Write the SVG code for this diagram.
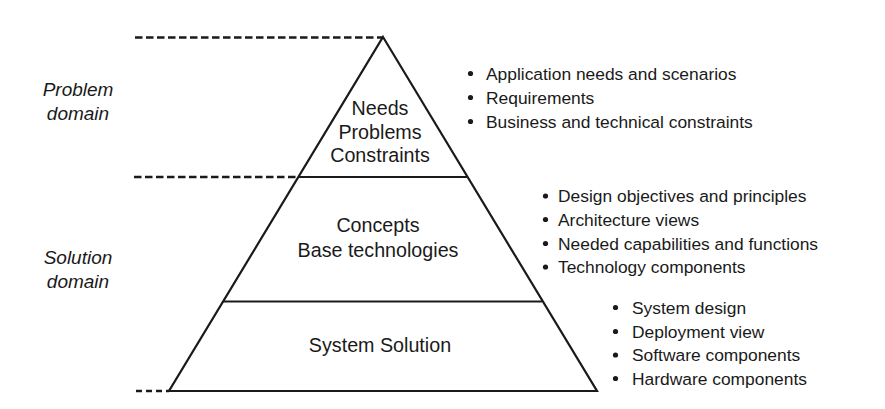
<svg xmlns="http://www.w3.org/2000/svg" width="885" height="409" viewBox="0 0 885 409">
<style>
.edge{fill:none;stroke:#1a1a1a;stroke-width:2.2;stroke-linejoin:miter}
.dash{stroke:#1a1a1a;stroke-width:2.4;stroke-dasharray:7.5 3.5}
.lvl{font-family:"Liberation Sans",Arial,sans-serif;font-size:19.7px;fill:#1a1a1a;text-anchor:middle}
.dom{font-family:"Liberation Sans",Arial,sans-serif;font-size:19px;font-style:italic;fill:#1a1a1a;text-anchor:middle}
.item{font-family:"Liberation Sans",Arial,sans-serif;font-size:17.4px;fill:#1a1a1a}
.bul{fill:#1a1a1a}
</style>
<rect width="885" height="409" fill="#fff"/>
<g id="connectors">
<line class="dash" x1="135" y1="37.5" x2="382" y2="37.5"/>
<line class="dash" x1="134" y1="177" x2="298" y2="177"/>
<line class="dash" x1="136" y1="391" x2="169" y2="391" style="stroke-dasharray:6 4"/>
</g>
<g id="pyramid">
<polygon class="edge" points="383,37 597,391 169,391"/>
<line class="edge" x1="298" y1="177" x2="467.5" y2="177"/>
<line class="edge" x1="223" y1="301.5" x2="542" y2="301.5"/>
</g>
<g id="level-problem">
<text class="lvl" x="380" y="115">Needs</text>
<text class="lvl" x="380" y="139">Problems</text>
<text class="lvl" x="380" y="162">Constraints</text>
</g>
<g id="level-concepts">
<text class="lvl" x="378" y="232">Concepts</text>
<text class="lvl" x="378" y="257">Base technologies</text>
</g>
<g id="level-solution">
<text class="lvl" x="380" y="352">System Solution</text>
</g>
<g id="domain-problem">
<text class="dom" x="78" y="96">Problem</text>
<text class="dom" x="78" y="120">domain</text>
</g>
<g id="domain-solution">
<text class="dom" x="78" y="264">Solution</text>
<text class="dom" x="78" y="288">domain</text>
</g>
<g id="list-problem">
<circle class="bul" cx="470.5" cy="73.5" r="2.6"/>
<text class="item" x="486" y="79.5">Application needs and scenarios</text>
<circle class="bul" cx="470.5" cy="97.5" r="2.6"/>
<text class="item" x="486" y="103.5">Requirements</text>
<circle class="bul" cx="470.5" cy="121.5" r="2.6"/>
<text class="item" x="486" y="127.5">Business and technical constraints</text>
</g>
<g id="list-concepts">
<circle class="bul" cx="545.5" cy="196" r="2.6"/>
<text class="item" x="558" y="202">Design objectives and principles</text>
<circle class="bul" cx="545.5" cy="219.5" r="2.6"/>
<text class="item" x="558" y="225.5">Architecture views</text>
<circle class="bul" cx="545.5" cy="243.5" r="2.6"/>
<text class="item" x="558" y="249.5">Needed capabilities and functions</text>
<circle class="bul" cx="545.5" cy="267" r="2.6"/>
<text class="item" x="558" y="273">Technology components</text>
</g>
<g id="list-solution">
<circle class="bul" cx="615.5" cy="307.5" r="2.6"/>
<text class="item" x="632" y="313.5">System design</text>
<circle class="bul" cx="615.5" cy="331.5" r="2.6"/>
<text class="item" x="632" y="337.5">Deployment view</text>
<circle class="bul" cx="615.5" cy="355" r="2.6"/>
<text class="item" x="632" y="361">Software components</text>
<circle class="bul" cx="615.5" cy="378.5" r="2.6"/>
<text class="item" x="632" y="384.5">Hardware components</text>
</g>
</svg>
